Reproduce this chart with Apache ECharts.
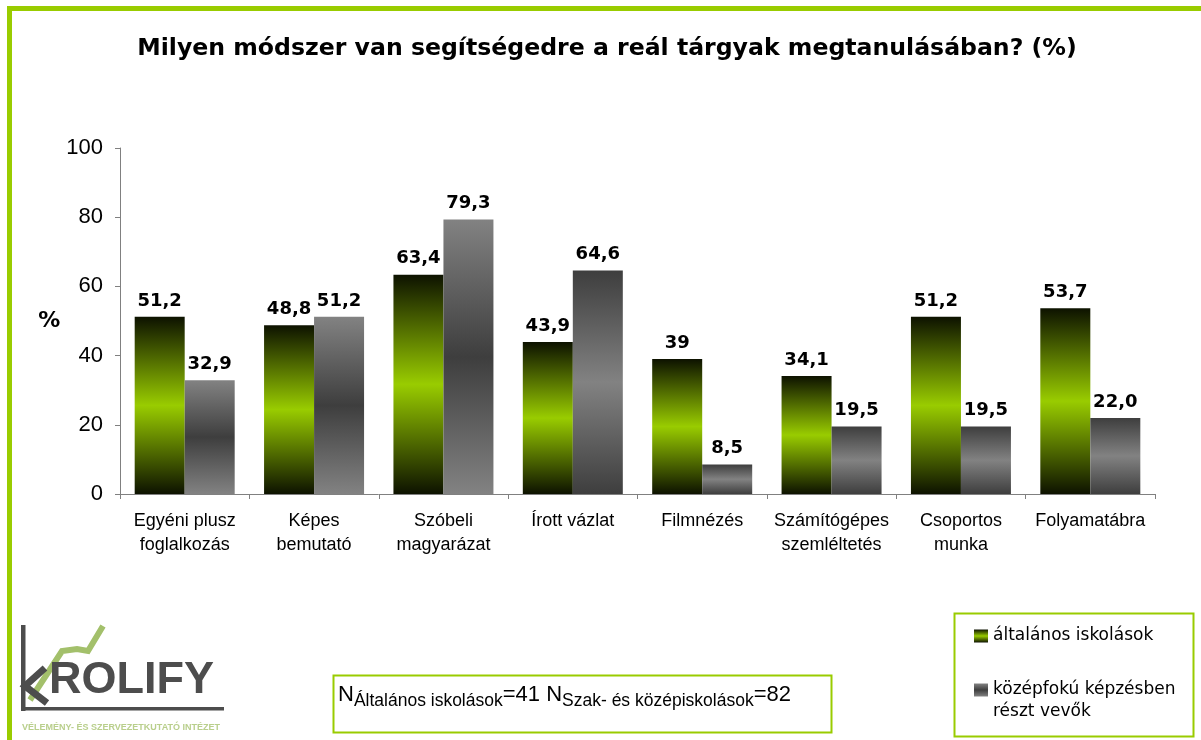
<!DOCTYPE html>
<html>
<head>
<meta charset="utf-8">
<script src="https://cdn.jsdelivr.net/npm/echarts@6/dist/echarts.min.js"></script>
<style>
  html, body { margin: 0; padding: 0; background: #fff; }
  #chart { width: 1201px; height: 740px; }
</style>
</head>
<body>
<div id="chart"></div>
<script>
let categories = ['Egyéni plusz\nfoglalkozás', 'Képes\nbemutató', 'Szóbeli\nmagyarázat', 'Írott vázlat',
  'Filmnézés', 'Számítógépes\nszemléltetés', 'Csoportos\nmunka', 'Folyamatábra'];
let altalanos = [51.2, 48.8, 63.4, 43.9, 39, 34.1, 51.2, 53.7];
let kozepfoku = [32.9, 51.2, 79.3, 64.6, 8.5, 19.5, 19.5, 22.0];
let yTicks = [0, 20, 40, 60, 80, 100];
let seriesNames = ['általános iskolások', 'középfokú képzésben\nrészt vevők'];

let FRAME_GREEN = '#99cc00';

let greenFill = new echarts.graphic.LinearGradient(0, 0, 0, 1, [
  { offset: 0, color: '#0d1200' },
  { offset: 0.5, color: '#99cc00' },
  { offset: 1, color: '#0d1200' }
]);
let grayLightEdges = new echarts.graphic.LinearGradient(0, 0, 0, 1, [
  { offset: 0, color: '#828282' },
  { offset: 0.5, color: '#3e3e3e' },
  { offset: 1, color: '#828282' }
]);
let grayDarkEdges = new echarts.graphic.LinearGradient(0, 0, 0, 1, [
  { offset: 0, color: '#3e3e3e' },
  { offset: 0.5, color: '#828282' },
  { offset: 1, color: '#3e3e3e' }
]);

let fmt = (v, keepDecimal) => {
  if (!keepDecimal && Number.isInteger(v)) return String(v);
  return v.toFixed(1).replace('.', ',');
};

let labelStyle = {
  show: true,
  position: 'top',
  distance: 7,
  fontFamily: 'DejaVu Sans',
  fontWeight: 'bold',
  fontSize: 18,
  color: '#000'
};

let legendText = { fontFamily: 'DejaVu Sans', fontSize: 17, color: '#000', lineHeight: 22 };

let chart = echarts.init(document.getElementById('chart'));

let option = {
  animation: false,
  title: {
    text: 'Milyen módszer van segítségedre a reál tárgyak megtanulásában? (%)',
    left: 607,
    textAlign: 'center',
    top: 37,
    padding: 0,
    textStyle: { fontFamily: 'DejaVu Sans', fontWeight: 'bold', fontSize: 23.6, color: '#000' }
  },
  grid: { left: 120, right: 46, top: 148, bottom: 246 },
  legend: [
    {
      data: [seriesNames[0]],
      left: 974, top: 625, padding: 0,
      itemWidth: 14, itemHeight: 13,
      icon: 'rect',
      textStyle: legendText
    },
    {
      data: [seriesNames[1]],
      left: 974, top: 657, padding: 0,
      itemWidth: 14, itemHeight: 13,
      icon: 'rect',
      // blank first line keeps the icon level with the first text line
      formatter: name => '\n' + name,
      textStyle: legendText
    }
  ],
  xAxis: {
    type: 'category',
    data: categories,
    axisLine: { lineStyle: { color: '#808080', width: 1 } },
    axisTick: { show: true, length: 5, lineStyle: { color: '#808080' } },
    axisLabel: { interval: 0, margin: 15, fontFamily: 'Liberation Sans', fontSize: 18, lineHeight: 24, color: '#000' }
  },
  yAxis: {
    type: 'value',
    min: yTicks[0],
    max: yTicks[yTicks.length - 1],
    interval: 20,
    name: '%',
    nameLocation: 'middle',
    nameRotate: 0,
    nameGap: 56,
    nameTextStyle: { fontFamily: 'DejaVu Sans', fontWeight: 'bold', fontSize: 22, color: '#000' },
    axisLine: { show: true, lineStyle: { color: '#808080', width: 1 } },
    axisTick: { show: true, length: 5, lineStyle: { color: '#808080' } },
    axisLabel: { margin: 17, fontFamily: 'Liberation Sans', fontSize: 22, color: '#000' },
    splitLine: { show: false }
  },
  series: [
    {
      name: seriesNames[0],
      type: 'bar',
      barWidth: 50,
      barGap: '0%',
      data: altalanos,
      itemStyle: { color: greenFill },
      label: { ...labelStyle, formatter: p => fmt(p.value, false) }
    },
    {
      name: seriesNames[1],
      type: 'bar',
      barWidth: 50,
      data: kozepfoku.map((v, i) => ({
        value: v,
        itemStyle: { color: i < 3 ? grayLightEdges : grayDarkEdges }
      })),
      itemStyle: { color: grayLightEdges },
      label: { ...labelStyle, formatter: p => fmt(p.value, true) }
    }
  ],
  graphic: [
    // green page frame (cut off on right and bottom)
    { type: 'rect', shape: { x: 9.5, y: 8.5, width: 1400, height: 900 },
      style: { fill: 'none', stroke: FRAME_GREEN, lineWidth: 5 }, z: 10 },
    // legend box
    { type: 'rect', shape: { x: 954.5, y: 613.5, width: 239, height: 123 },
      style: { fill: 'none', stroke: FRAME_GREEN, lineWidth: 2 } },
    // sample size box
    { type: 'rect', shape: { x: 333.5, y: 675.5, width: 498, height: 57 },
      style: { fill: '#fff', stroke: FRAME_GREEN, lineWidth: 2 } },
    { type: 'text', x: 338, y: 697, z: 5,
      style: {
        text: '{n|N}{s|Általános iskolások}{n|=41 N}{s|Szak- és középiskolások}{n|=82}',
        verticalAlign: 'middle',
        rich: {
          n: { fontFamily: 'Liberation Sans', fontSize: 22, lineHeight: 26, verticalAlign: 'top', fill: '#000' },
          s: { fontFamily: 'Liberation Sans', fontSize: 17.5, lineHeight: 17, verticalAlign: 'bottom', fill: '#000' }
        }
      } },
    // logo
    { type: 'polyline', shape: { points: [[30, 700], [62, 651], [77, 649], [88, 651], [103, 626]] },
      style: { stroke: '#a3c06b', lineWidth: 6, fill: 'none' } },
    { type: 'rect', shape: { x: 21, y: 625, width: 4.5, height: 86 }, style: { fill: '#4d4d4d' } },
    { type: 'rect', shape: { x: 21, y: 707, width: 203, height: 3.5 }, style: { fill: '#4d4d4d' } },
    { type: 'polyline', shape: { points: [[45, 668], [25, 686], [47, 703]] },
      style: { stroke: '#4d4d4d', lineWidth: 7, fill: 'none' } },
    { type: 'text', x: 49, y: 703,
      style: { text: 'ROLIFY', fontFamily: 'Liberation Sans', fontWeight: 'bold', fontSize: 45,
        fill: '#4d4d4d', verticalAlign: 'bottom' } },
    { type: 'text', x: 22, y: 728,
      style: { text: 'VÉLEMÉNY- ÉS SZERVEZETKUTATÓ INTÉZET', fontFamily: 'Liberation Sans', fontWeight: 'bold',
        fontSize: 9, fill: '#b9cf8c', verticalAlign: 'middle' } }
  ]
};

chart.setOption(option);
</script>
</body>
</html>
